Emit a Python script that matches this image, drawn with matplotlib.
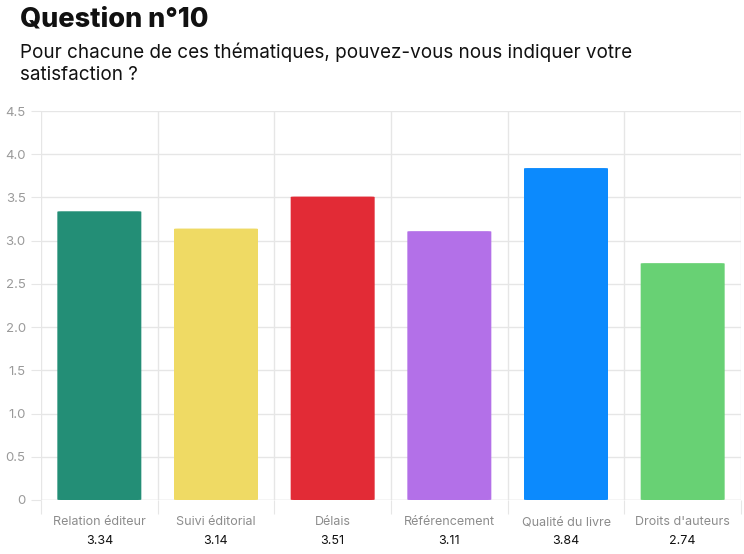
import matplotlib.pyplot as plt
from matplotlib.patches import FancyBboxPatch

categories = ['Relation éditeur', 'Suivi éditorial', 'Délais', 'Référencement',
              'Qualité du livre', "Droits d'auteurs"]
scores = [3.34, 3.14, 3.51, 3.11, 3.84, 2.74]
value_labels = ['3.34', '3.14', '3.51', '3.11', '3.84', '2.74']
colors = ['#238E76', '#EFDA64', '#E22B36', '#B370E8', '#0C8AFD', '#68D174']
yticks = [0, 0.5, 1.0, 1.5, 2.0, 2.5, 3.0, 3.5, 4.0, 4.5]
ytick_labels = ['0', '0.5', '1.0', '1.5', '2.0', '2.5', '3.0', '3.5', '4.0', '4.5']

plt.rcParams['font.family'] = ['Inter', 'DejaVu Sans']

fig = plt.figure(figsize=(7.44, 5.54), dpi=100)
ax = fig.add_axes([41 / 744, 1 - 500 / 554, 700 / 744, 389 / 554])

grid_col = '#E6E6E6'
n = len(categories)
bar_w = 0.72
for i, (v, c) in enumerate(zip(scores, colors)):
    box = FancyBboxPatch((i - bar_w / 2, 0), bar_w, v,
                         boxstyle='round,pad=0,rounding_size=0.03',
                         mutation_aspect=1 / 6,
                         facecolor=c, edgecolor='none', zorder=3)
    ax.add_patch(box)

ax.set_xlim(-0.5, n - 0.5)
ax.set_ylim(0, 4.5)

# horizontal grid
for y in yticks:
    ax.axhline(y, color=grid_col if y > 0 else '#D0D0D0', lw=1, zorder=1)
# vertical separators
for xb in range(n + 1):
    ax.axvline(xb - 0.5, color=grid_col, lw=1, zorder=1)

ax.set_yticks(yticks)
ax.set_yticklabels(ytick_labels, color='#9A9A9A', fontsize=9.5)
ax.tick_params(axis='y', length=7, color=grid_col, pad=4)

ax.set_xticks([i - 0.5 for i in range(n + 1)], minor=False)
ax.set_xticklabels([])
ax.tick_params(axis='x', length=10, color=grid_col)

for i, (cat, val) in enumerate(zip(categories, value_labels)):
    ax.text(i, -0.29, cat, ha='center', va='baseline', fontsize=9,
            color='#8C8C8C', clip_on=False)
    ax.text(i, -0.505, val, ha='center', va='baseline', fontsize=9,
            color='#111111', clip_on=False)

for s in ax.spines.values():
    s.set_visible(False)

fig.text(20 / 744, 1 - 20 / 554, 'Question n°10', fontsize=19.5, fontweight='heavy',
         color='#111111', ha='left', va='center')
fig.text(20 / 744, 1 - 52 / 554, 'Pour chacune de ces thématiques, pouvez-vous nous indiquer votre',
         fontsize=13.6, color='#111111', ha='left', va='center')
fig.text(20 / 744, 1 - 75 / 554, 'satisfaction ?',
         fontsize=13.6, color='#111111', ha='left', va='center')

fig.savefig('out.png', dpi=100, facecolor='white')
